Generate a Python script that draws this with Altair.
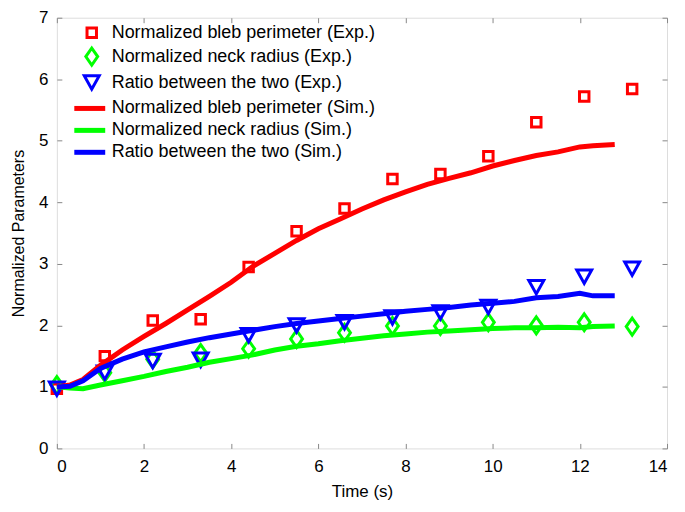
import altair as alt
import pandas as pd

# ---------------- data ----------------
t_exp = [0, 1.1, 2.2, 3.3, 4.4, 5.5, 6.6, 7.7, 8.8, 9.9, 11.0, 12.1, 13.2]
perim_exp = [0.97, 1.50, 2.08, 2.10, 2.95, 3.53, 3.90, 4.38, 4.46, 4.75, 5.30, 5.72, 5.84]
neck_exp = [1.03, 1.23, 1.45, 1.55, 1.62, 1.78, 1.88, 1.99, 1.99, 2.05, 2.00, 2.05, 1.98]
ratio_exp = [0.97, 1.23, 1.42, 1.44, 1.84, 2.00, 2.05, 2.13, 2.21, 2.30, 2.62, 2.79, 2.92]

t_sim = [0, 0.3, 0.6, 1.0, 1.5, 2.0, 2.5, 3.0, 3.5, 4.0, 4.5, 5.0, 5.5, 6.0, 6.5,
         7.0, 7.5, 8.0, 8.5, 9.0, 9.5, 10.0, 10.5, 11.0, 11.5, 12.0, 12.3, 12.8]
perim_sim = [1.00, 1.03, 1.12, 1.35, 1.60, 1.82, 2.03, 2.25, 2.47, 2.70, 2.96, 3.17, 3.38, 3.57, 3.73,
             3.89, 4.04, 4.17, 4.29, 4.39, 4.48, 4.59, 4.68, 4.76, 4.82, 4.90, 4.92, 4.94]
neck_sim = [1.00, 0.98, 0.97, 1.03, 1.10, 1.17, 1.25, 1.32, 1.40, 1.46, 1.52, 1.60, 1.66, 1.70, 1.75,
            1.79, 1.83, 1.86, 1.89, 1.91, 1.93, 1.95, 1.96, 1.96, 1.97, 1.96, 1.98, 1.99]
ratio_sim = [1.00, 1.01, 1.10, 1.30, 1.45, 1.57, 1.65, 1.73, 1.80, 1.86, 1.92, 1.98, 2.03, 2.07, 2.11,
             2.15, 2.19, 2.23, 2.26, 2.29, 2.33, 2.36, 2.39, 2.45, 2.47, 2.52, 2.48, 2.48]

exp_names = [
    "Normalized bleb perimeter (Exp.)",
    "Normalized neck radius (Exp.)",
    "Ratio between the two (Exp.)",
]
sim_names = [
    "Normalized bleb perimeter (Sim.)",
    "Normalized neck radius (Sim.)",
    "Ratio between the two (Sim.)",
]
colors = ["#ff0000", "#00ff00", "#0000ff"]
shapes = ["square", "M0,-1L0.7,0L0,1L-0.7,0Z", "M-1,-0.9L1,-0.9L0,0.9Z"]
sizes = [90, 289, 225]
LINE = "M-3.1,0L3.1,0"

exp_rows = []
for name, vals in zip(exp_names, [perim_exp, neck_exp, ratio_exp]):
    for t, v in zip(t_exp, vals):
        exp_rows.append({"series": name, "t": t, "v": v})
sim_rows = []
for name, vals in zip(sim_names, [perim_sim, neck_sim, ratio_sim]):
    for t, v in zip(t_sim, vals):
        sim_rows.append({"series": name, "t": t, "v": v})
exp_df = pd.DataFrame(exp_rows)
sim_df = pd.DataFrame(sim_rows)

W, H = 612, 432
GRAY = "#888888"
FONT = "Liberation Sans"

x = alt.X("t:Q", scale=alt.Scale(domain=[0, 14], nice=False, zero=False),
          axis=alt.Axis(values=list(range(0, 15, 2)), title="Time (s)",
                        domain=False, ticks=False, tickSize=0, grid=True,
                        gridColor=GRAY, gridOpacity=1, gridDash=[5, H - 10],
                        labelFontSize=17, labelPadding=10, labelColor="black",
                        titleFontSize=17, titleFontWeight="normal", titleColor="black",
                        titlePadding=9, labelFont=FONT, titleFont=FONT))
y = alt.Y("v:Q", scale=alt.Scale(domain=[0, 7], nice=False),
          axis=alt.Axis(values=list(range(0, 8)), title="Normalized Parameters",
                        domain=False, ticks=False, tickSize=0, grid=True,
                        gridColor=GRAY, gridOpacity=1, gridDash=[5, W - 10],
                        labelFontSize=17, labelPadding=9, labelColor="black",
                        titleFontSize=16, titleFontWeight="normal", titleColor="black",
                        titlePadding=12, labelFont=FONT, titleFont=FONT))

leg_exp = alt.Legend(title=None, orient="none", legendX=25, legendY=6, padding=0,
                     labelFontSize=18, labelFont=FONT, labelColor="black", labelLimit=500,
                     labelOffset=10, rowPadding=-2, symbolOpacity=1, symbolStrokeWidth=3)
leg_sim = alt.Legend(title=None, orient="none", legendX=24, legendY=82, padding=0,
                     labelFontSize=18, labelFont=FONT, labelColor="black", labelLimit=500,
                     labelOffset=13, rowPadding=2, symbolOpacity=1, symbolType=LINE,
                     symbolSize=100, symbolStrokeWidth=5)

points = alt.Chart(exp_df).mark_point(filled=False, opacity=1, strokeWidth=3).encode(
    x=x, y=y,
    color=alt.Color("series:N", scale=alt.Scale(domain=exp_names, range=colors), legend=leg_exp),
    shape=alt.Shape("series:N", scale=alt.Scale(domain=exp_names, range=shapes), legend=leg_exp),
    size=alt.Size("series:N", scale=alt.Scale(type="ordinal", domain=exp_names, range=sizes), legend=leg_exp),
)
lines = alt.Chart(sim_df).mark_line(strokeWidth=5).encode(
    x=x, y=y,
    color=alt.Color("series:N", scale=alt.Scale(domain=sim_names, range=colors), legend=leg_sim),
    order="t:Q",
)

chart = alt.layer(points, lines).resolve_scale(
    color="independent", shape="independent", size="independent"
).properties(
    width=W, height=H,
    autosize=alt.AutoSizeParams(type="none"),
    padding={"left": 49, "top": 9, "right": 10, "bottom": 54},
).configure_view(stroke=GRAY, strokeWidth=1).configure(font=FONT, background="white")

chart.save("out.html", embed_options={"renderer": "svg", "actions": False})
